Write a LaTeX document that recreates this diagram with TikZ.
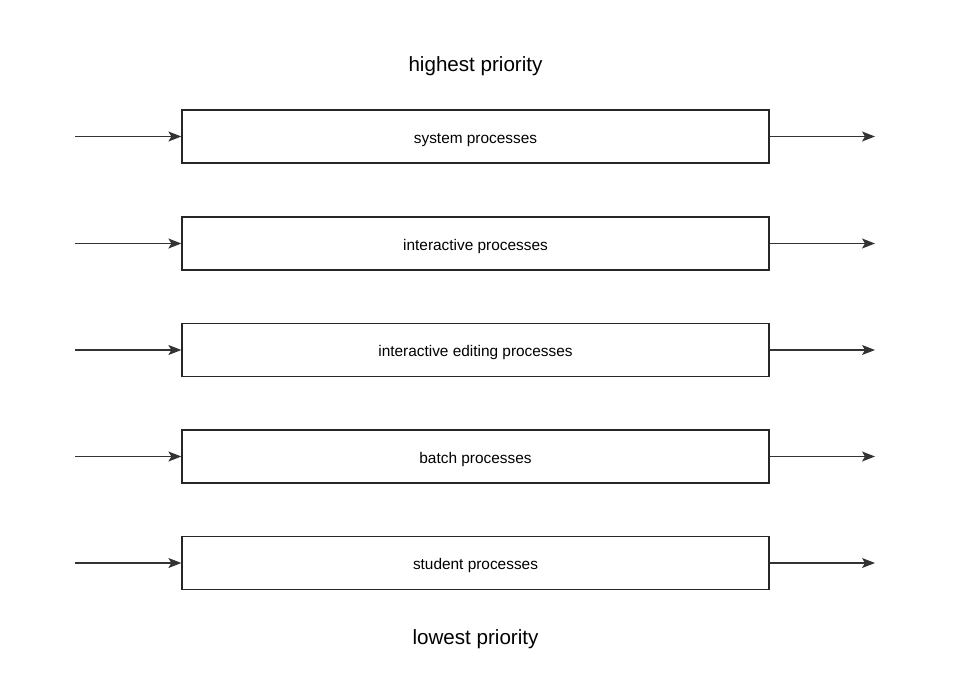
\documentclass[tikz,border=0pt]{standalone}
\usepackage{fontspec}
\setmainfont{Liberation Sans}
\usetikzlibrary{arrows.meta}
\tikzset{
  procbox/.style={draw=black!85, line width=1.25pt, minimum width=587pt, minimum height=53pt, inner sep=0pt, text height=13pt, text depth=0pt, font=\fontsize{15.4}{18}\selectfont},
  flow/.style={draw=black!80, line width=1.25pt, -{Stealth[length=13pt,width=10pt,inset=3pt]}},
  titletext/.style={inner sep=0pt, text height=16pt, text depth=0pt, font=\fontsize{20.6}{24}\selectfont}
}
\begin{document}
\begin{tikzpicture}[x=1pt,y=-1pt]
\useasboundingbox (0,0) rectangle (956,694);
\node[titletext] (hi) at (475.5,63) {highest priority};
\node[titletext] (lo) at (475.5,636) {lowest priority};
\foreach \n/\y/\t in {a/136.5/system processes, b/243.5/interactive processes, c/350/interactive editing processes, d/456.5/batch processes, e/563/student processes}{
  \node[procbox] (\n) at (475.5,\y) {\t};
  \coordinate (\n in) at (75,\y);
  \coordinate (\n out) at (875,\y);
  \draw[flow] (\n in) -- (\n.west);
  \draw[flow] (\n.east) -- (\n out);
}
\end{tikzpicture}
\end{document}
